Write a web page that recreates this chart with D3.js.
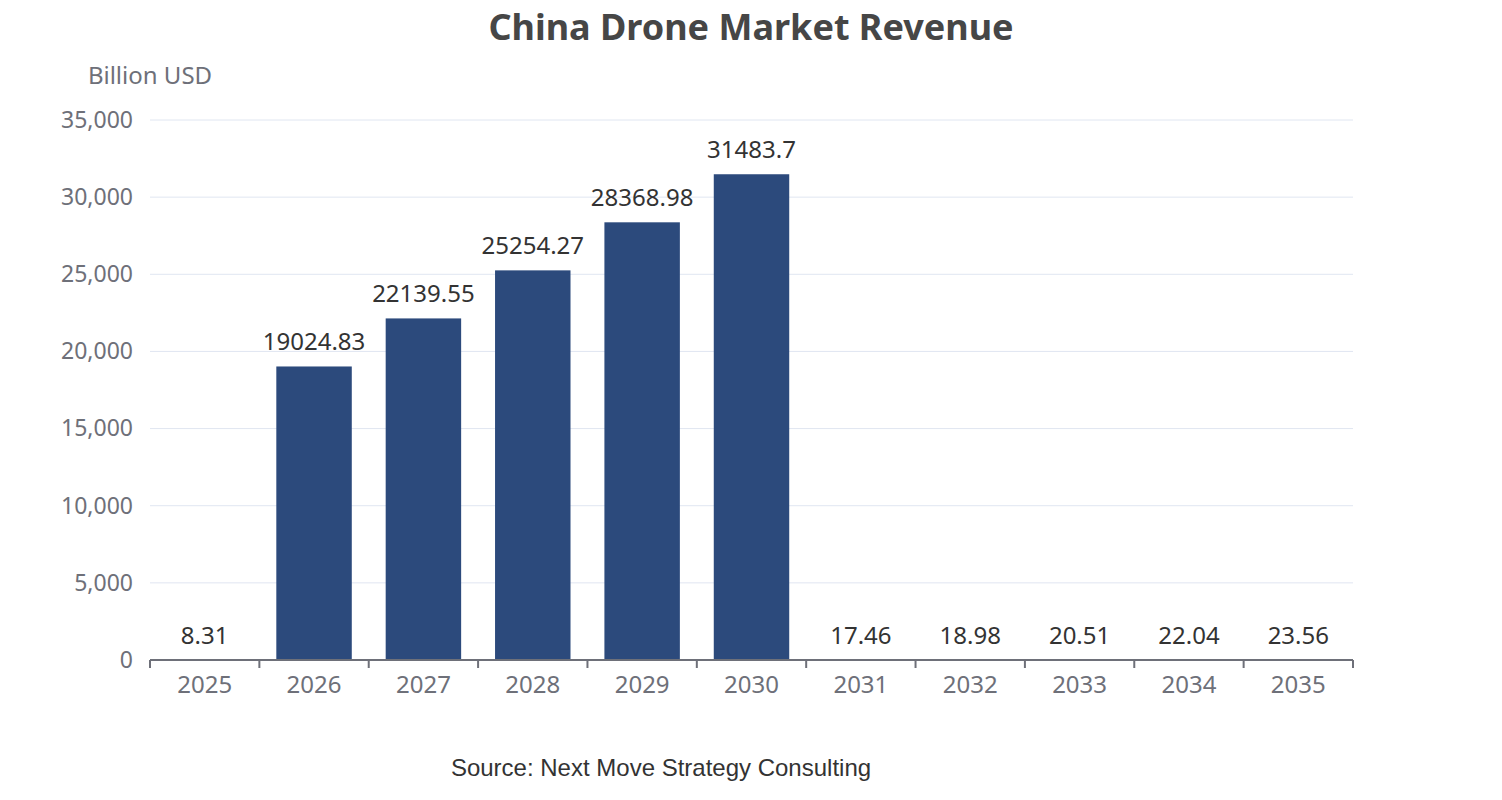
<!DOCTYPE html>
<html>
<head>
<meta charset="utf-8">
<script src="https://cdn.jsdelivr.net/npm/d3@7"></script>
<style>
  body { margin: 0; background: #fff; }
  text { font-family: "Noto Sans", sans-serif; }
</style>
</head>
<body>
<svg id="chart" width="1502" height="800"></svg>
<script>
const years = ["2025", "2026", "2027", "2028", "2029", "2030", "2031", "2032", "2033", "2034", "2035"]
const revenue = [8.31, 19024.83, 22139.55, 25254.27, 28368.98, 31483.7, 17.46, 18.98, 20.51, 22.04, 23.56]
const yTicks = [0, 5000, 10000, 15000, 20000, 25000, 30000, 35000]

const svg = d3.select("#chart")
const plotLeft = 150, plotRight = 1353, plotTop = 120, plotBottom = 660

let x = d3.scaleBand().domain(years).range([plotLeft, plotRight])
let y = d3.scaleLinear().domain([0, 35000]).range([plotBottom, plotTop])

// title
svg.append("text")
    .attr("x", 751).attr("y", 40)
    .attr("text-anchor", "middle")
    .style("font-size", "36px").style("font-weight", "bold")
    .attr("fill", "#464646")
    .text("China Drone Market Revenue")

svg.append("text")
    .attr("x", 150).attr("y", 84)
    .attr("text-anchor", "middle")
    .style("font-size", "24px")
    .attr("fill", "#6e7079")
    .text("Billion USD")

// grid
svg.append("g").selectAll("line")
    .data(yTicks.filter(d => d > 0))
    .join("line")
    .attr("x1", plotLeft).attr("x2", plotRight)
    .attr("y1", d => y(d)).attr("y2", d => y(d))
    .attr("stroke", "#e0e6f1")

let yAxis = d3.axisLeft(y).tickValues(yTicks).tickSize(0).tickPadding(17)
    .tickFormat(d3.format(","))
let yg = svg.append("g").attr("transform", `translate(${plotLeft},0)`).call(yAxis)
yg.select(".domain").remove()
yg.selectAll("text").style("font-size", "23px").attr("fill", "#6e7079")

// bars
let barW = x.bandwidth() * 0.69
svg.append("g").selectAll("rect")
    .data(revenue)
    .join("rect")
    .attr("x", (d, i) => x(years[i]) + (x.bandwidth() - barW) / 2)
    .attr("width", barW)
    .attr("y", d => y(d))
    .attr("height", d => plotBottom - y(d))
    .attr("fill", "#2c4a7c")

svg.append("g").selectAll("text")
    .data(revenue)
    .join("text")
    .attr("x", (d, i) => x(years[i]) + x.bandwidth() / 2)
    .attr("y", d => y(d) - 16)
    .attr("text-anchor", "middle")
    .style("font-size", "24px")
    .attr("fill", "#333")
    .text(d => d)

let xAxis = d3.axisBottom(x).tickSize(0).tickPadding(16)
let xg = svg.append("g").attr("transform", `translate(0,${plotBottom})`).call(xAxis)
xg.select(".domain").attr("stroke", "#6e7079").attr("stroke-width", 2)
  .attr("d", `M${plotLeft},0H${plotRight}`)
xg.selectAll("text").style("font-size", "24px").attr("fill", "#6e7079")
// ticks on band boundaries
xg.append("g").selectAll("line")
    .data(years.map(d => x(d)).concat([plotRight]))
    .join("line")
    .attr("x1", d => d).attr("x2", d => d)
    .attr("y1", 0).attr("y2", 8)
    .attr("stroke", "#6e7079").attr("stroke-width", 2)

svg.append("text")
    .attr("x", 661).attr("y", 776)
    .attr("text-anchor", "middle")
    .style("font-family", "'Liberation Sans', Arial, sans-serif")
    .style("font-size", "24px")
    .attr("fill", "#333")
    .text("Source: Next Move Strategy Consulting")
</script>
</body>
</html>
